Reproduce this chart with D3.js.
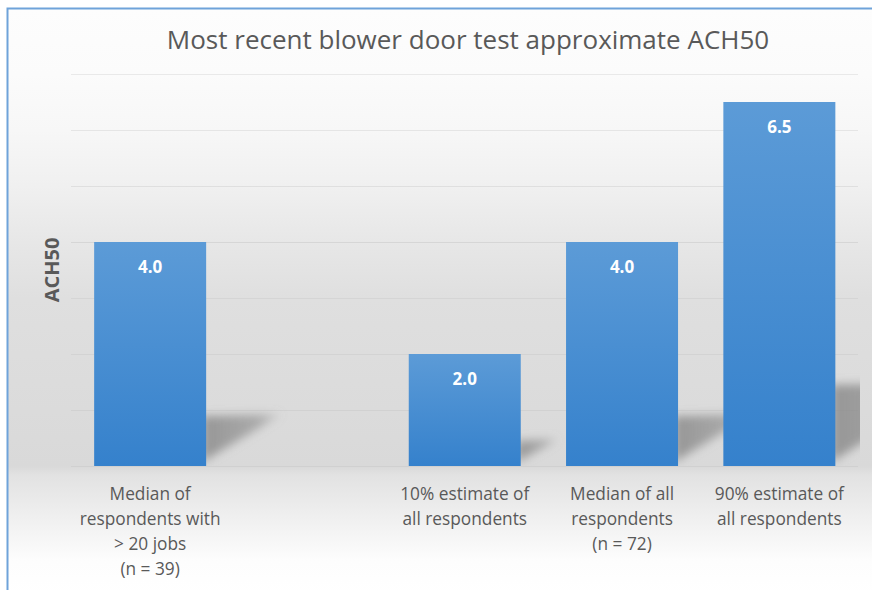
<!DOCTYPE html>
<html>
<head>
<meta charset="utf-8">
<script src="https://cdn.jsdelivr.net/npm/d3@7"></script>
<style>
  html, body { margin: 0; padding: 0; background: #fff; }
  svg { display: block; }
</style>
</head>
<body>
<script>
// chart data
const categories = ["median20", "gap", "p10", "medianAll", "p90"];
const values = [4.0, null, 2.0, 4.0, 6.5];
const labels = [
    ["Median of", "respondents with", "> 20 jobs", "(n = 39)"],
    [],
    ["10% estimate of", "all respondents"],
    ["Median of all", "respondents", "(n = 72)"],
    ["90% estimate of", "all respondents"]
];
const yTicks = [1, 2, 3, 4, 5, 6, 7];

const W = 872, H = 590;
const svg = d3.select("body").append("svg")
    .attr("width", W)
    .attr("height", H);

const defs = svg.append("defs");

// background gradient (light top, grey at floor, white below)
const bg = defs.append("linearGradient")
    .attr("id", "bg").attr("x1", 0).attr("y1", 0).attr("x2", 0).attr("y2", 1);
[["0%", "#fdfdfd"], ["11%", "#fbfbfb"], ["20.5%", "#f7f7f7"], ["30%", "#f0f0f0"],
 ["39.5%", "#e7e7e7"], ["49%", "#dfdfdf"], ["77.5%", "#d9d9d9"], ["79%", "#e2e2e2"],
 ["93.5%", "#fdfdfd"], ["100%", "#ffffff"]]
    .forEach(s => bg.append("stop").attr("offset", s[0]).attr("stop-color", s[1]));

// bar gradient
const bar = defs.append("linearGradient")
    .attr("id", "bar").attr("x1", 0).attr("y1", 0).attr("x2", 0).attr("y2", 1);
bar.append("stop").attr("offset", "0%").attr("stop-color", "#5c9bd7");
bar.append("stop").attr("offset", "100%").attr("stop-color", "#3581cc");

defs.append("filter").attr("id", "blur")
    .attr("x", "-50%").attr("y", "-50%").attr("width", "200%").attr("height", "200%")
    .append("feGaussianBlur").attr("stdDeviation", 5);

// shadow fades out towards its tip
const sh = defs.append("linearGradient")
    .attr("id", "shade").attr("x1", 0).attr("y1", 0).attr("x2", 1).attr("y2", 0);
sh.append("stop").attr("offset", "0%").attr("stop-color", "#8a8a8a").attr("stop-opacity", 0.85);
sh.append("stop").attr("offset", "70%").attr("stop-color", "#8a8a8a").attr("stop-opacity", 0.6);
sh.append("stop").attr("offset", "100%").attr("stop-color", "#8a8a8a").attr("stop-opacity", 0.15);

defs.append("clipPath").attr("id", "plot")
    .append("rect").attr("x", 8).attr("y", 9).attr("width", 852).attr("height", 457);

// card
svg.append("rect")
    .attr("x", 8).attr("y", 9)
    .attr("width", W).attr("height", H)
    .attr("fill", "url(#bg)");
svg.append("path")
    .attr("d", `M7.5,${H} V8.5 H${W}`)
    .attr("fill", "none")
    .attr("stroke", "#6fa3da")
    .attr("stroke-width", 2);

// scales
const x = d3.scaleBand()
    .domain(categories)
    .range([71.5, 858])
    .paddingInner(0.288)
    .paddingOuter(0.144);

const y = d3.scaleLinear()
    .domain([0, 7])
    .range([466, 74]);

// gridlines
svg.append("g")
    .selectAll("line")
    .data(yTicks)
    .enter().append("line")
    .attr("x1", 71).attr("x2", 858)
    .attr("y1", d => y(d) + 0.5).attr("y2", d => y(d) + 0.5)
    .attr("stroke", "#000")
    .attr("stroke-opacity", d => d >= 4 ? 0.07 : 0.045)
    .attr("stroke-width", 1.2);

const data = categories.map((c, i) => ({ c: c, v: values[i], lines: labels[i] }))
    .filter(d => d.v != null);

// perspective shadows (wedge cast back-right from each bar)
const g = svg.append("g").attr("clip-path", "url(#plot)");
g.selectAll("path.shadow")
    .data(data)
    .enter().append("path")
    .attr("class", "shadow")
    .attr("d", d => {
        const x1 = x(d.c) + x.bandwidth();
        const base = y(0);
        const dx = d.v * 19, dy = d.v * 12.5;
        return `M${x1 - 4},${base - dy} L${x1 + dx},${base - dy - 2} L${x1 - 4},${base - 4} Z`;
    })
    .attr("fill", "url(#shade)")
    .attr("filter", "url(#blur)");

// bars
svg.selectAll("rect.bar")
    .data(data)
    .enter().append("rect")
    .attr("class", "bar")
    .attr("x", d => x(d.c))
    .attr("y", d => y(d.v))
    .attr("width", x.bandwidth())
    .attr("height", d => y(0) - y(d.v))
    .attr("fill", "url(#bar)");

// value labels
svg.selectAll("text.val")
    .data(data)
    .enter().append("text")
    .attr("class", "val")
    .attr("x", d => x(d.c) + x.bandwidth() / 2)
    .attr("y", d => y(d.v) + 31)
    .attr("text-anchor", "middle")
    .attr("font-family", "'Open Sans', sans-serif")
    .attr("font-weight", "bold")
    .attr("font-size", 17)
    .attr("fill", "#ffffff")
    .text(d => d.v.toFixed(1));

// baseline
svg.append("line")
    .attr("x1", 71).attr("x2", 858)
    .attr("y1", y(0) + 0.5).attr("y2", y(0) + 0.5)
    .attr("stroke", "#d0d0d0");

// category labels
const cat = svg.selectAll("text.cat")
    .data(data)
    .enter().append("text")
    .attr("class", "cat")
    .attr("text-anchor", "middle")
    .attr("font-family", "'Open Sans', sans-serif")
    .attr("font-size", 17.3)
    .attr("fill", "#595959");
cat.selectAll("tspan")
    .data(d => d.lines.map(l => ({ l: l, cx: x(d.c) + x.bandwidth() / 2 })))
    .enter().append("tspan")
    .attr("x", d => d.cx)
    .attr("y", (d, i) => 500 + i * 25)
    .text(d => d.l);

// title
svg.append("text")
    .attr("x", 468)
    .attr("y", 49)
    .attr("text-anchor", "middle")
    .attr("font-family", "'Open Sans', sans-serif")
    .attr("font-size", 26)
    .attr("fill", "#595959")
    .text("Most recent blower door test approximate ACH50");

// y axis title
svg.append("text")
    .attr("transform", "translate(59,270) rotate(-90)")
    .attr("text-anchor", "middle")
    .attr("font-family", "'Open Sans', sans-serif")
    .attr("font-weight", "bold")
    .attr("font-size", 20)
    .attr("fill", "#595959")
    .text("ACH50");
</script>
</body>
</html>
